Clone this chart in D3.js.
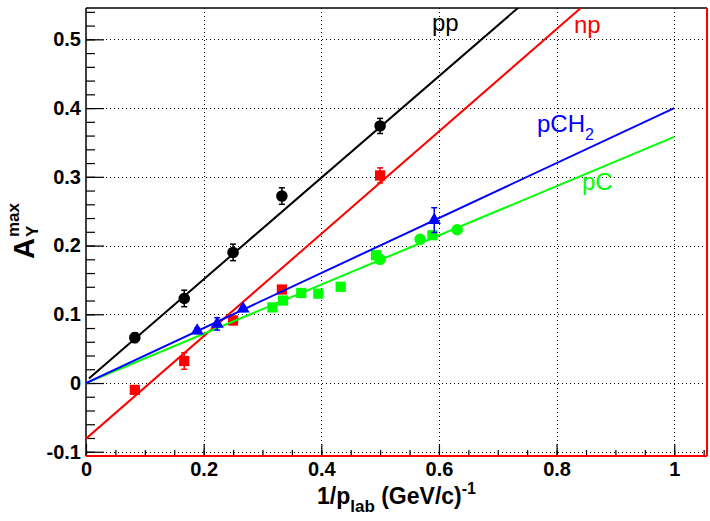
<!DOCTYPE html>
<html>
<head>
<meta charset="utf-8">
<script src="https://d3js.org/d3.v7.min.js"></script>
<style>
  body { margin: 0; background: #fff; }
  text { font-family: "Liberation Sans", Arial, Helvetica, sans-serif; }
</style>
</head>
<body>
<div id="chart"></div>
<script>
// data
const ppX = [0.083, 0.167, 0.25, 0.333, 0.5];
const ppY = [0.066, 0.123, 0.190, 0.272, 0.374];
const ppErr = [0.007, 0.012, 0.012, 0.012, 0.011];

const npX = [0.083, 0.167, 0.25, 0.333, 0.5];
const npY = [-0.010, 0.032, 0.091, 0.136, 0.302];
const npErr = [0.006, 0.012, 0.006, 0.005, 0.011];

const pch2X = [0.189, 0.223, 0.267, 0.592];
const pch2Y = [0.076, 0.086, 0.108, 0.237];
const pch2Err = [0.004, 0.009, 0.004, 0.018];

const pcSqX = [0.317, 0.335, 0.366, 0.395, 0.433, 0.493, 0.589];
const pcSqY = [0.110, 0.120, 0.131, 0.130, 0.140, 0.186, 0.215];
const pcCircX = [0.5, 0.568, 0.631];
const pcCircY = [0.180, 0.209, 0.223];

// straight-line fits, as end points
const ppFit = [[0.005, 0.0067], [1, 0.742]];
const npFit = [[0, -0.081], [1, 0.664]];
const pch2Fit = [[0, 0], [1, 0.400]];
const pcFit = [[0, 0], [1, 0.358]];

const xTicks = [0, 0.2, 0.4, 0.6, 0.8, 1];
const xTickLabels = ["0", "0.2", "0.4", "0.6", "0.8", "1"];
const yTicks = [-0.1, 0, 0.1, 0.2, 0.3, 0.4, 0.5];
const yTickLabels = ["-0.1", "0", "0.1", "0.2", "0.3", "0.4", "0.5"];

const W = 710, H = 521;
const fLeft = 86, fTop = 8, fRight = 707, fBottom = 456;

const svg = d3.select("#chart").append("svg")
    .attr("width", W).attr("height", H);

const x = d3.scaleLinear().domain([0, 1.0557]).range([fLeft, fRight]);
const y = d3.scaleLinear().domain([-0.1062, 0.5456]).range([fBottom, fTop]);

svg.append("clipPath").attr("id", "frame")
  .append("rect").attr("x", fLeft).attr("y", fTop)
  .attr("width", fRight - fLeft).attr("height", fBottom - fTop);

// grid
const grid = svg.append("g").attr("stroke", "#000").attr("stroke-width", 1)
    .attr("stroke-dasharray", "1,3");
grid.selectAll(".gx").data(xTicks.slice(1)).enter().append("line")
    .attr("x1", d => Math.round(x(d)) + 0.5).attr("x2", d => Math.round(x(d)) + 0.5)
    .attr("y1", fTop).attr("y2", fBottom);
grid.selectAll(".gy").data(yTicks).enter().append("line")
    .attr("y1", d => Math.round(y(d)) + 0.5).attr("y2", d => Math.round(y(d)) + 0.5)
    .attr("x1", fLeft).attr("x2", fRight);

// axes: ticks point inward
const yAxis = d3.axisLeft(y).tickValues(yTicks).tickSize(-18).tickPadding(5)
    .tickFormat((d, i) => yTickLabels[i]);
const yMinor = d3.axisLeft(y).tickValues(d3.range(-10, 55, 2).map(v => v / 100))
    .tickSize(-9).tickFormat("");
const xAxis = d3.axisBottom(x).tickValues(xTicks).tickSize(-12).tickPadding(6)
    .tickFormat((d, i) => xTickLabels[i]);
const xMinor = d3.axisBottom(x).tickValues(d3.range(0, 106, 5).map(v => v / 100))
    .tickSize(-6).tickFormat("");

svg.append("g").attr("transform", `translate(${fLeft},0)`).call(yMinor)
  .call(g => g.select(".domain").remove());
svg.append("g").attr("transform", `translate(${fLeft},0)`).call(yAxis)
  .call(g => g.select(".domain").remove())
  .selectAll("text").attr("font-size", 20).attr("font-weight", "bold")
  .attr("font-family", "Liberation Sans, Arial, sans-serif");
svg.append("g").attr("transform", `translate(0,${fBottom})`).call(xMinor)
  .call(g => g.select(".domain").remove());
svg.append("g").attr("transform", `translate(0,${fBottom})`).call(xAxis)
  .call(g => g.select(".domain").remove())
  .selectAll("text").attr("font-size", 20).attr("font-weight", "bold")
  .attr("font-family", "Liberation Sans, Arial, sans-serif");
svg.selectAll(".tick line").attr("stroke", "#000").attr("stroke-width", 1.2);

// frame (left/top black, right/bottom red as in the original)
svg.append("line").attr("x1", fLeft).attr("x2", fLeft).attr("y1", fTop).attr("y2", fBottom)
  .attr("stroke", "#000").attr("stroke-width", 1.5);
svg.append("line").attr("x1", fLeft).attr("x2", fRight).attr("y1", fTop).attr("y2", fTop)
  .attr("stroke", "#000").attr("stroke-width", 1.5);
svg.append("line").attr("x1", fRight).attr("x2", fRight).attr("y1", fTop).attr("y2", fBottom)
  .attr("stroke", "#f00").attr("stroke-width", 2);
svg.append("line").attr("x1", fLeft).attr("x2", fRight).attr("y1", fBottom).attr("y2", fBottom)
  .attr("stroke", "#f00").attr("stroke-width", 2);

const plot = svg.append("g").attr("clip-path", "url(#frame)");
const line = d3.line().x(d => x(d[0])).y(d => y(d[1]));

function errorBars(xs, ys, es, color) {
  const g = plot.append("g").attr("stroke", color).attr("stroke-width", 1.5);
  xs.forEach((v, i) => {
    const cx = x(v), y1 = y(ys[i] - es[i]), y2 = y(ys[i] + es[i]);
    g.append("line").attr("x1", cx).attr("x2", cx).attr("y1", y1).attr("y2", y2);
    g.append("line").attr("x1", cx - 3).attr("x2", cx + 3).attr("y1", y1).attr("y2", y1);
    g.append("line").attr("x1", cx - 3).attr("x2", cx + 3).attr("y1", y2).attr("y2", y2);
  });
}

function markers(xs, ys, type, size, color) {
  plot.append("g").selectAll("path").data(xs).enter().append("path")
    .attr("d", d3.symbol().type(type).size(size))
    .attr("transform", (d, i) => `translate(${x(d)},${y(ys[i])})`)
    .attr("fill", color);
}

function fitLine(pts, color) {
  plot.append("path").datum(pts).attr("d", line)
    .attr("fill", "none").attr("stroke", color).attr("stroke-width", 2);
}

// pp
errorBars(ppX, ppY, ppErr, "#000");
markers(ppX, ppY, d3.symbolCircle, 105, "#000");
fitLine(ppFit, "#000");
// np
errorBars(npX, npY, npErr, "#f00");
markers(npX, npY, d3.symbolSquare, 105, "#f00");
fitLine(npFit, "#f00");
// pC
markers(pcSqX, pcSqY, d3.symbolSquare, 105, "#0f0");
markers(pcCircX, pcCircY, d3.symbolCircle, 105, "#0f0");
fitLine(pcFit, "#0f0");
// pCH2
errorBars(pch2X, pch2Y, pch2Err, "#00f");
markers(pch2X, pch2Y, d3.symbolTriangle, 75, "#00f");
fitLine(pch2Fit, "#00f");

// series labels
svg.append("text").attr("x", 432).attr("y", 31).attr("font-size", 24).attr("fill", "#000").text("pp");
svg.append("text").attr("x", 574).attr("y", 33).attr("font-size", 24).attr("fill", "#f00").text("np");
const lab = svg.append("text").attr("x", 537).attr("y", 132).attr("font-size", 24).attr("fill", "#00f");
lab.append("tspan").text("pCH");
lab.append("tspan").attr("dy", 8).attr("font-size", 16).text("2");
svg.append("text").attr("x", 582).attr("y", 190).attr("font-size", 24).attr("fill", "#0f0").text("pC");

// axis titles
const xt = svg.append("text").attr("x", (fLeft + fRight) / 2).attr("y", 504)
  .attr("text-anchor", "middle").attr("font-size", 23).attr("font-weight", "bold");
xt.append("tspan").text("1/p");
xt.append("tspan").attr("dy", 8).attr("font-size", 17).text("lab");
xt.append("tspan").attr("dy", -8).text(" (GeV/c)");
xt.append("tspan").attr("dy", -10).attr("font-size", 16).text("-1");

const yt = svg.append("g").attr("transform", "translate(34,259) rotate(-90)")
  .attr("font-weight", "bold");
yt.append("text").attr("x", 0).attr("y", 0).attr("font-size", 29).text("A");
yt.append("text").attr("x", 22).attr("y", 4).attr("font-size", 17).text("Y");
yt.append("text").attr("x", 22).attr("y", -15).attr("font-size", 17).text("max");
</script>
</body>
</html>
